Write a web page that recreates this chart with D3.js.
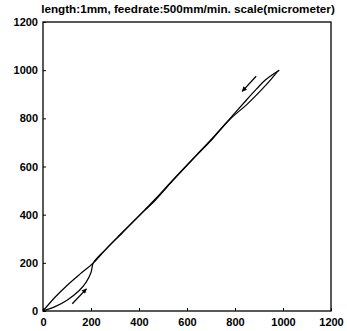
<!DOCTYPE html>
<html>
<head>
<meta charset="utf-8">
<script src="https://cdn.jsdelivr.net/npm/d3@7"></script>
<style>
    html, body { margin: 0; padding: 0; background: #fff; }
    svg text { font-family: "Liberation Sans", Arial, sans-serif; font-weight: bold; fill: #000; }
</style>
</head>
<body>
<svg id="chart" width="347" height="331"></svg>
<script>
const title = 'length:1mm, feedrate:500mm/min. scale(micrometer)'
const xTicks = [0, 200, 400, 600, 800, 1000, 1200]
const yTicks = [0, 200, 400, 600, 800, 1000, 1200]

// forward path (arrow near the origin points up-right)
const forward = [
    [0, 0], [50, 18], [100, 45], [150, 84], [180, 120], [200, 160], [210, 200],
    [262, 256], [330, 324], [424, 418], [468, 460], [540, 540], [634, 640],
    [700, 708], [778, 795], [850, 858], [910, 918], [950, 962], [970, 986], [984, 1000]
]

// return path (arrow near the top points down-left)
const back = [
    [984, 1000], [960, 984], [925, 958], [890, 922], [845, 873], [778, 798],
    [700, 711], [634, 642], [540, 543], [470, 467], [424, 420], [330, 326],
    [262, 257], [210, 200], [155, 154], [100, 106], [50, 57], [0, 0]
]

// arrows: [tail, head]
const arrows = [
    [[122, 30], [181, 92]],
    [[888, 975], [830, 912]]
]

const svg = d3.select('#chart')
const m = { left: 43, right: 16, top: 22, bottom: 20 }
const W = 347 - m.left - m.right
const H = 331 - m.top - m.bottom

const x = d3.scaleLinear().domain([0, 1200]).range([0, W])
const y = d3.scaleLinear().domain([0, 1200]).range([H, 0])

const g = svg.append('g').attr('transform', `translate(${m.left},${m.top})`)

svg.append('text')
    .attr('x', 188)
    .attr('y', 13)
    .attr('text-anchor', 'middle')
    .style('font-size', '11.7px')
    .text(title)

const xAxis = g.append('g')
    .attr('transform', `translate(0,${H})`)
    .call(d3.axisBottom(x).tickValues(xTicks).tickFormat(d3.format('d')).tickSize(-3).tickPadding(7))
const yAxis = g.append('g')
    .call(d3.axisLeft(y).tickValues(yTicks).tickFormat(d3.format('d')).tickSize(-3).tickPadding(5))

for (const ax of [xAxis, yAxis]) {
    ax.select('.domain').remove()
    ax.selectAll('line').attr('stroke', '#000').attr('stroke-width', 1)
    ax.selectAll('text').style('font-size', '11px').style('font-family', '"Liberation Sans", Arial, sans-serif')
}

g.append('rect')
    .attr('width', W)
    .attr('height', H)
    .attr('fill', 'none')
    .attr('stroke', '#000')
    .attr('stroke-width', 1.3)

const line = d3.line()
    .x(d => x(d[0]))
    .y(d => y(d[1]))
    .curve(d3.curveCatmullRom.alpha(0.5))

g.selectAll('.path')
    .data([forward, back])
    .enter().append('path')
    .attr('class', 'path')
    .attr('d', line)
    .attr('fill', 'none')
    .attr('stroke', '#000')
    .attr('stroke-width', 1.2)

svg.append('defs').append('marker')
    .attr('id', 'head')
    .attr('viewBox', '0 0 10 10')
    .attr('refX', 9)
    .attr('refY', 5)
    .attr('markerWidth', 7)
    .attr('markerHeight', 5)
    .attr('markerUnits', 'userSpaceOnUse')
    .attr('orient', 'auto')
    .append('path')
    .attr('d', 'M0,0 L10,5 L0,10 Z')
    .attr('fill', '#000')

g.selectAll('.arrow')
    .data(arrows)
    .enter().append('line')
    .attr('class', 'arrow')
    .attr('x1', d => x(d[0][0]))
    .attr('y1', d => y(d[0][1]))
    .attr('x2', d => x(d[1][0]))
    .attr('y2', d => y(d[1][1]))
    .attr('stroke', '#000')
    .attr('stroke-width', 1.3)
    .attr('marker-end', 'url(#head)')
</script>
</body>
</html>
